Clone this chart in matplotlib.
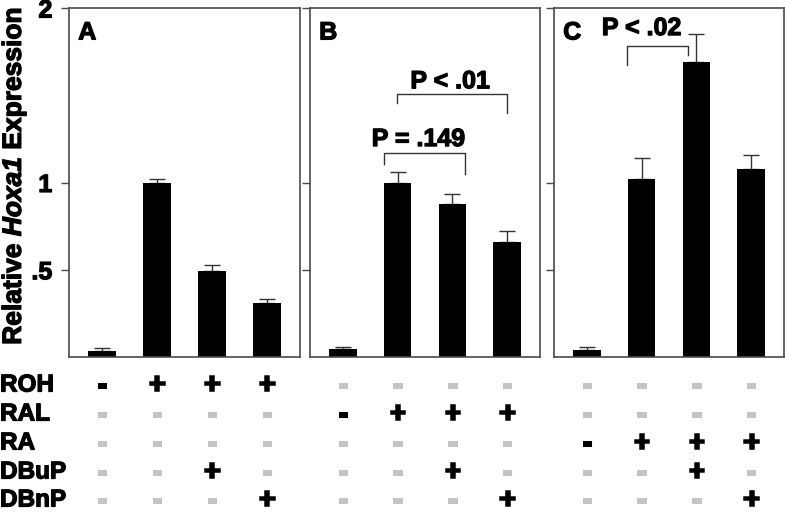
import matplotlib
matplotlib.use("Agg")
import matplotlib.pyplot as plt
import matplotlib.transforms as mtransforms
import matplotlib.patheffects as pe
import numpy as np

plt.rcParams['font.family'] = ['Liberation Sans', 'DejaVu Sans']
plt.rcParams['mathtext.fontset'] = 'custom'
plt.rcParams['mathtext.bfit'] = 'Liberation Sans:bold:italic'
plt.rcParams['mathtext.bf'] = 'Liberation Sans:bold'

# ---- data ----
panels = ["A", "B", "C"]
values_A = [0.034, 1.00, 0.49, 0.31]
errors_A = [0.016, 0.02, 0.04, 0.02]
values_B = [0.046, 1.00, 0.877, 0.659]
errors_B = [0.011, 0.06, 0.058, 0.061]
values_C = [0.040, 1.02, 1.69, 1.077]
errors_C = [0.017, 0.12, 0.16, 0.08]

yticks = [0.5, 1, 2]
ytick_labels = [".5", "1", "2"]

row_labels = ["ROH", "RAL", "RA", "DBuP", "DBnP"]
# '+' = black plus, '-' = black minus, '' = grey dash (absent)
treat_A = [["-", "+", "+", "+"],
           ["", "", "", ""],
           ["", "", "", ""],
           ["", "", "+", ""],
           ["", "", "", "+"]]
treat_B = [["", "", "", ""],
           ["-", "+", "+", "+"],
           ["", "", "", ""],
           ["", "", "+", ""],
           ["", "", "", "+"]]
treat_C = [["", "", "", ""],
           ["", "", "", ""],
           ["-", "+", "+", "+"],
           ["", "", "+", ""],
           ["", "", "", "+"]]

# significance brackets: (panel, x_left, x_right, y_top, y_left_leg, y_right_leg, label, label_x, label_y)
brackets = [
    (1, 0.745, 2.236, 1.170, 1.106, 1.049, "P = .149", 1.38, 1.249),
    (1, 0.98, 3.00, 1.507, 1.456, 1.398, "P < .01", 1.96, 1.58),
    (2, 0.727, 1.855, 1.782, 1.673, 1.730, "P < .02", 1.00, 1.885),
]

# ---- layout ----
W, H = 785, 513
fig = plt.figure(figsize=(W / 100, H / 100), dpi=100)

axes_px = [(69, 300), (310, 540), (554, 784)]
top_px, bot_px = 8, 357
all_vals = [values_A, values_B, values_C]
all_errs = [errors_A, errors_B, errors_C]
all_treat = [treat_A, treat_B, treat_C]

frame_color = "#4a4a4a"
fs = 18
heavy = [pe.withStroke(linewidth=0.9, foreground="black")]
axes = []
for i, (x0, x1) in enumerate(axes_px):
    ax = fig.add_axes([x0 / W, (H - bot_px) / H, (x1 - x0) / W, (bot_px - top_px) / H])
    axes.append(ax)
    vals = all_vals[i]
    errs = all_errs[i]
    x = np.arange(len(vals))
    ax.bar(x, vals, width=0.5, color="black", zorder=2)
    ax.errorbar(x, vals, yerr=[np.zeros(len(errs)), errs], fmt="none",
                ecolor="#333333", elinewidth=1.0, capsize=6, capthick=1.0, zorder=1)
    ax.set_xlim(-0.6, 3.6)
    ax.set_ylim(0, 2)
    ax.set_xticks([])
    ax.set_yticks(yticks)
    if i == 0:
        ax.set_yticklabels(ytick_labels, fontsize=fs, fontweight="bold")
        for t in ax.get_yticklabels():
            t.set_path_effects(heavy)
    else:
        ax.set_yticklabels([])
    ax.tick_params(axis="y", direction="out", length=6, width=1, color=frame_color, pad=6)
    for s in ax.spines.values():
        s.set_color(frame_color)
        s.set_linewidth(1.2)
    ax.text(0.04, 0.93, panels[i], transform=ax.transAxes, fontsize=fs,
            fontweight="bold", ha="left", va="center", path_effects=heavy)

for (pi, xl, xr, yt, yl, yr, lab, lx, ly) in brackets:
    ax = axes[pi]
    ax.plot([xl, xl, xr, xr], [yl, yt, yt, yr], color="#333333", lw=1.0, zorder=3)
    ax.text(lx, ly, lab, fontsize=fs, fontweight="bold", ha="center", va="center",
            path_effects=heavy)

# y label
fig.text(14 / W, (H - 176) / H,
         r"Relative $\bfit{Hoxa1}$ Expression",
         rotation=90, ha="center", va="center", fontsize=19, fontweight="bold",
         path_effects=heavy)

# treatment table
row_y_px = [385, 414, 443, 472, 500]
for r, lab in enumerate(row_labels):
    fig.text(0 / W, (H - row_y_px[r]) / H, lab, fontsize=17.5, fontweight="bold",
             ha="left", va="center", path_effects=heavy)
for i, ax in enumerate(axes):
    trans = mtransforms.blended_transform_factory(ax.transData, fig.transFigure)
    treat = all_treat[i]
    for r in range(len(row_labels)):
        for c, sym in enumerate(treat[r]):
            if sym == "+":
                fig.text(c, (H - row_y_px[r]) / H, "+", transform=trans, fontsize=19.5,
                         fontweight="bold", ha="center", va="center", color="black",
                         path_effects=[pe.withStroke(linewidth=1.8, foreground="black",
                                                     joinstyle="miter", capstyle="butt")])
            else:
                col = "black" if sym == "-" else "#c4c4c4"
                fig.text(c, (H - row_y_px[r]) / H, "-", transform=trans, fontsize=18,
                         fontweight="bold", ha="center", va="center", color=col,
                         path_effects=[pe.withStroke(linewidth=2.2, foreground=col,
                                                     joinstyle="miter", capstyle="butt")])

fig.savefig("out.png", dpi=100)
